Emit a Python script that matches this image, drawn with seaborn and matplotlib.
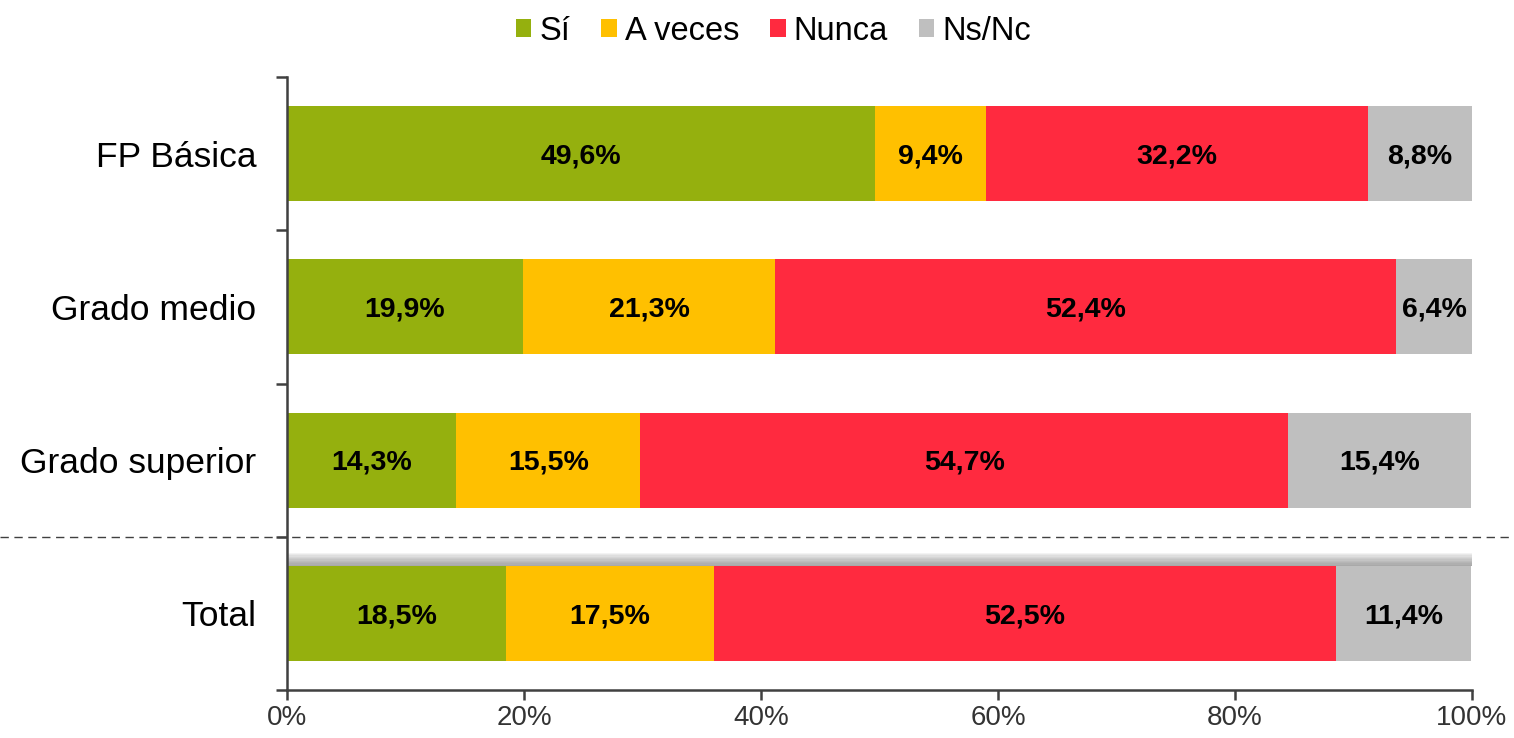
import matplotlib
matplotlib.use('Agg')

import numpy as np
import seaborn as sns
import matplotlib.pyplot as plt
import matplotlib.transforms as mtransforms
from matplotlib.patches import Patch, Rectangle
from matplotlib.lines import Line2D


categories = ['FP Básica', 'Grado medio', 'Grado superior', 'Total']
series = ['Sí', 'A veces', 'Nunca', 'Ns/Nc']
si = [49.6, 19.9, 14.3, 18.5]
a_veces = [9.4, 21.3, 15.5, 17.5]
nunca = [32.2, 52.4, 54.7, 52.5]
ns_nc = [8.8, 6.4, 15.4, 11.4]
colors = ['#95B00E', '#FFC000', '#FF2A3F', '#BFBFBF']

values = np.array([si, a_veces, nunca, ns_nc])
cum = values.cumsum(axis=0)

sns.set_style('white')
plt.rcParams['font.family'] = ['Liberation Sans', 'DejaVu Sans']

fig = plt.figure(figsize=(15.14, 7.38), dpi=100)
ax = fig.add_axes([287 / 1514, 48 / 738, 1185 / 1514, 613 / 738])

# stacked bars: draw the cumulative totals from the right end backwards
for i in reversed(range(len(series))):
    sns.barplot(x=cum[i], y=categories, orient='h', color=colors[i],
                width=0.62, saturation=1, ax=ax, linewidth=0)

ax.set_xlim(0, 100)
ax.set_ylim(3.5, -0.5)

# soft shadow above the Total bar
total_bars = [p for p in ax.patches if abs(p.get_y() + p.get_height() / 2 - 3) < 0.01]
x0 = min(p.get_x() for p in total_bars)
x1 = max(p.get_x() + p.get_width() for p in total_bars)
top = min(p.get_y() for p in total_bars)
for k in range(1, 11):
    h = 0.0085 * k
    ax.add_patch(Rectangle((x0 - 0.1, top - h), x1 - x0 + 0.2, h, facecolor='#606060',
                           alpha=0.07, linewidth=0, zorder=0.5))

# data labels
for i in range(len(series)):
    for j in range(len(categories)):
        xc = cum[i][j] - values[i][j] / 2
        ax.annotate(f'{values[i][j]:.1f}%'.replace('.', ','), (xc, j),
                    xytext=(0, -2), textcoords='offset points',
                    ha='center', va='center', fontsize=20.5, fontweight='bold',
                    color='black')

# axes styling
for s in ['top', 'right']:
    ax.spines[s].set_visible(False)
for s in ['left', 'bottom']:
    ax.spines[s].set_color('#404040')
    ax.spines[s].set_linewidth(1.8)

ax.set_xticks([0, 20, 40, 60, 80, 100])
ax.set_xticklabels(['0%', '20%', '40%', '60%', '80%', '100%'])
ax.tick_params(axis='x', bottom=True, length=7, width=1.8, color='#404040', labelsize=20,
               labelcolor='#333333', pad=4)
ax.set_yticks(range(len(categories)))
ax.set_yticklabels(categories)
ax.set_yticks(np.arange(-0.5, len(categories), 1), minor=True)
ax.tick_params(axis='y', which='major', left=True, length=0, labelsize=25.5, pad=22,
               labelcolor='black')
ax.tick_params(axis='y', which='minor', left=True, length=8, width=1.8, color='#404040')
ax.set_xlabel('')
ax.set_ylabel('')

# dashed separator before the Total row, across the whole figure
trans = mtransforms.blended_transform_factory(fig.transFigure, ax.transData)
fig.add_artist(Line2D([0, 1], [2.5, 2.5], transform=trans, color='#404040',
                      linewidth=1, linestyle=(0, (6, 4))))

handles = [Patch(facecolor=c, edgecolor='none') for c in colors]
fig.legend(handles, series, loc='upper center', bbox_to_anchor=(0.511, 1.018), ncol=4,
           frameon=False, fontsize=23.5, handlelength=0.47, handleheight=0.47,
           handletextpad=0.25, columnspacing=0.95, labelcolor='black')

plt.savefig('out.png', dpi=100)
